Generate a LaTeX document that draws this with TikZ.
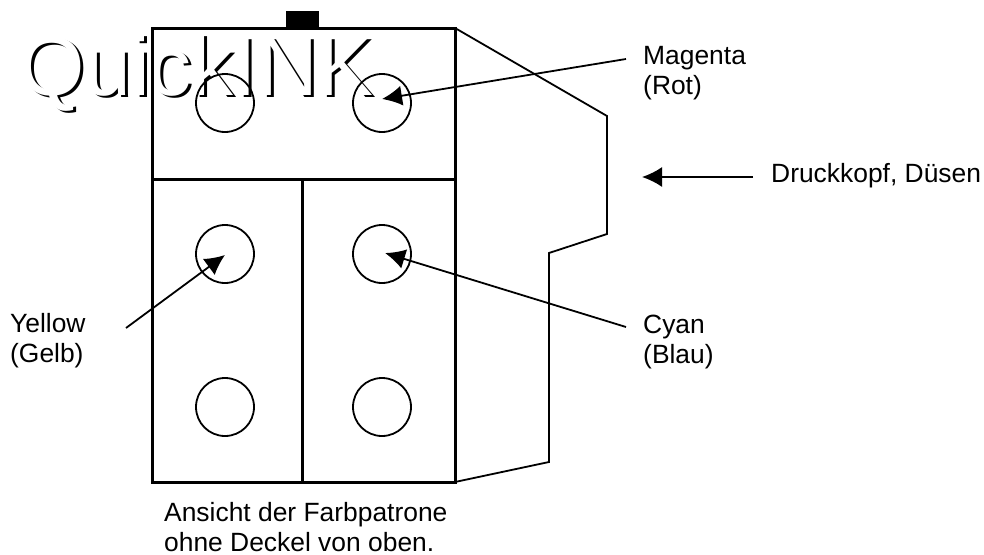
\documentclass[tikz,border=0pt]{standalone}
\usepackage{fontspec}
\setmainfont{Liberation Sans}
\usetikzlibrary{arrows.meta,positioning}
\tikzset{
  thickline/.style={line width=3pt},
  thinline/.style={line width=1.8pt},
  tank/.style={circle, draw, line width=1.8pt, minimum size=58pt, inner sep=0pt},
  label/.style={align=left, anchor=west, inner sep=0pt, font=\fontsize{26.4}{30}\selectfont},
  pointer/.style={thinline, -{Latex[length=20pt,width=20pt]}},
  logo/.style={anchor=base west, inner sep=0pt, font=\fontsize{84}{84}\selectfont}
}

\begin{document}
\begin{tikzpicture}[x=1pt, y=-1pt]
    \useasboundingbox (0,0) rectangle (984,554);
    % logo
    \node[logo, text=black] (logoshadow) at (22,97) {QuickINK};
    \node[logo, text=white] (logo) at (19,95) {QuickINK};
    % cartridge
    \fill (286,11) rectangle (319,28);
    \draw[thickline] (152,28) rectangle (455,482);
    \draw[thickline] (152,179) -- (455,179);
    \draw[thickline] (302,179) -- (302,482);
    \draw[thinline] (455,28) -- (607,116) -- (607,234) -- (549,253) -- (549,462) -- (455,482);
    % tanks
    \node[tank] (tankA) at (225,103) {};
    \node[tank] (tankB) at (382,103) {};
    \node[tank] (tankC) at (225,254) {};
    \node[tank] (tankD) at (382,254) {};
    \node[tank] (tankE) at (225,407) {};
    \node[tank] (tankF) at (382,407) {};
    % labels
    \node[label] (magenta) at (643,73) {Magenta\\(Rot)};
    \node[label] (kopf) at (771,176) {Druckkopf, Düsen};
    \node[label] (yellow) at (10,341) {Yellow\\(Gelb)};
    \node[label] (cyan) at (643,342) {Cyan\\(Blau)};
    \node[label] (caption) at (164,527) {Ansicht der Farbpatrone\\ohne Deckel von oben.};
    % arrows
    \coordinate (magentaend) at (626,59);
    \coordinate (kopfend) at (753,177);
    \coordinate (kopftip) at (642,177);
    \coordinate (yellowend) at (126,328);
    \coordinate (cyanend) at (626,327);
    \draw[pointer] (magentaend) -- ([yshift=4pt]tankB.center);
    \draw[pointer] (kopfend) -- (kopftip);
    \draw[pointer] (yellowend) -- ([yshift=-1pt]tankC.center);
    \draw[pointer] (cyanend) -- ([xshift=3pt,yshift=1pt]tankD.center);
\end{tikzpicture}
\end{document}
